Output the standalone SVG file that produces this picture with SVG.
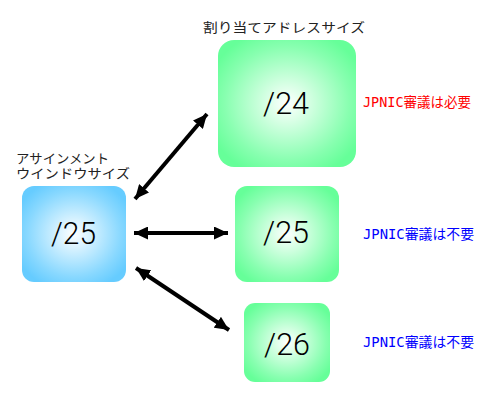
<svg xmlns="http://www.w3.org/2000/svg" width="500" height="400" viewBox="0 0 500 400">
<defs>
<radialGradient id="gGreen" cx="50%" cy="50%" r="60%">
<stop offset="0" stop-color="#ffffff"/>
<stop offset="0.75" stop-color="#88ffb0"/>
<stop offset="1" stop-color="#66ff99"/>
</radialGradient>
<radialGradient id="gBlue" cx="50%" cy="50%" r="60%">
<stop offset="0" stop-color="#ffffff"/>
<stop offset="0.75" stop-color="#88d8ff"/>
<stop offset="1" stop-color="#66ccff"/>
</radialGradient>
<marker id="ah" viewBox="0 0 14 13" refX="14" refY="6.5" markerWidth="14" markerHeight="13" markerUnits="userSpaceOnUse" orient="auto-start-reverse">
<path d="M0,0 L14,6.5 L0,13 Z" fill="#000"/>
</marker>
</defs>
<style>
.num{font-family:Roboto,"DejaVu Sans",sans-serif;font-weight:300;font-size:31px;fill:#000}
.lbl{font-family:"Noto Sans CJK JP",sans-serif;font-size:13px;fill:#222}
.note{font-family:"DejaVu Sans Mono","Noto Sans CJK JP",sans-serif;font-size:14px}
.conn{stroke:#000;stroke-width:4;fill:none;marker-start:url(#ah);marker-end:url(#ah)}
</style>
<g id="connectors">
<line class="conn" x1="135" y1="199" x2="207" y2="114"/>
<line class="conn" x1="134" y1="233" x2="228" y2="233"/>
<line class="conn" x1="136" y1="268" x2="229" y2="330"/>
</g>
<g id="node-assign">
<text class="lbl"><tspan x="16" y="163" textLength="93" lengthAdjust="spacingAndGlyphs">アサインメント</tspan><tspan x="16" y="178" textLength="114" lengthAdjust="spacingAndGlyphs">ウインドウサイズ</tspan></text>
<rect x="22" y="186" width="104" height="96" rx="12" fill="url(#gBlue)"/>
<text class="num" x="51" y="244" textLength="45" lengthAdjust="spacingAndGlyphs">/25</text>
</g>
<g id="node-24">
<text class="lbl" x="203" y="32" textLength="162" lengthAdjust="spacingAndGlyphs">割り当てアドレスサイズ</text>
<rect x="218" y="40" width="138" height="127" rx="16" fill="url(#gGreen)"/>
<text class="num" x="263" y="114" textLength="46" lengthAdjust="spacingAndGlyphs">/24</text>
<text class="note" x="363" y="107" fill="#ff0000" textLength="108" lengthAdjust="spacingAndGlyphs">JPNIC審議は必要</text>
</g>
<g id="node-25">
<rect x="235" y="186" width="104" height="96" rx="12" fill="url(#gGreen)"/>
<text class="num" x="263" y="243" textLength="46" lengthAdjust="spacingAndGlyphs">/25</text>
<text class="note" x="363" y="239" fill="#0000ff" textLength="111" lengthAdjust="spacingAndGlyphs">JPNIC審議は不要</text>
</g>
<g id="node-26">
<rect x="244" y="303" width="86" height="79" rx="11" fill="url(#gGreen)"/>
<text class="num" x="264" y="355" textLength="46" lengthAdjust="spacingAndGlyphs">/26</text>
<text class="note" x="363" y="347" fill="#0000ff" textLength="111" lengthAdjust="spacingAndGlyphs">JPNIC審議は不要</text>
</g>
</svg>
